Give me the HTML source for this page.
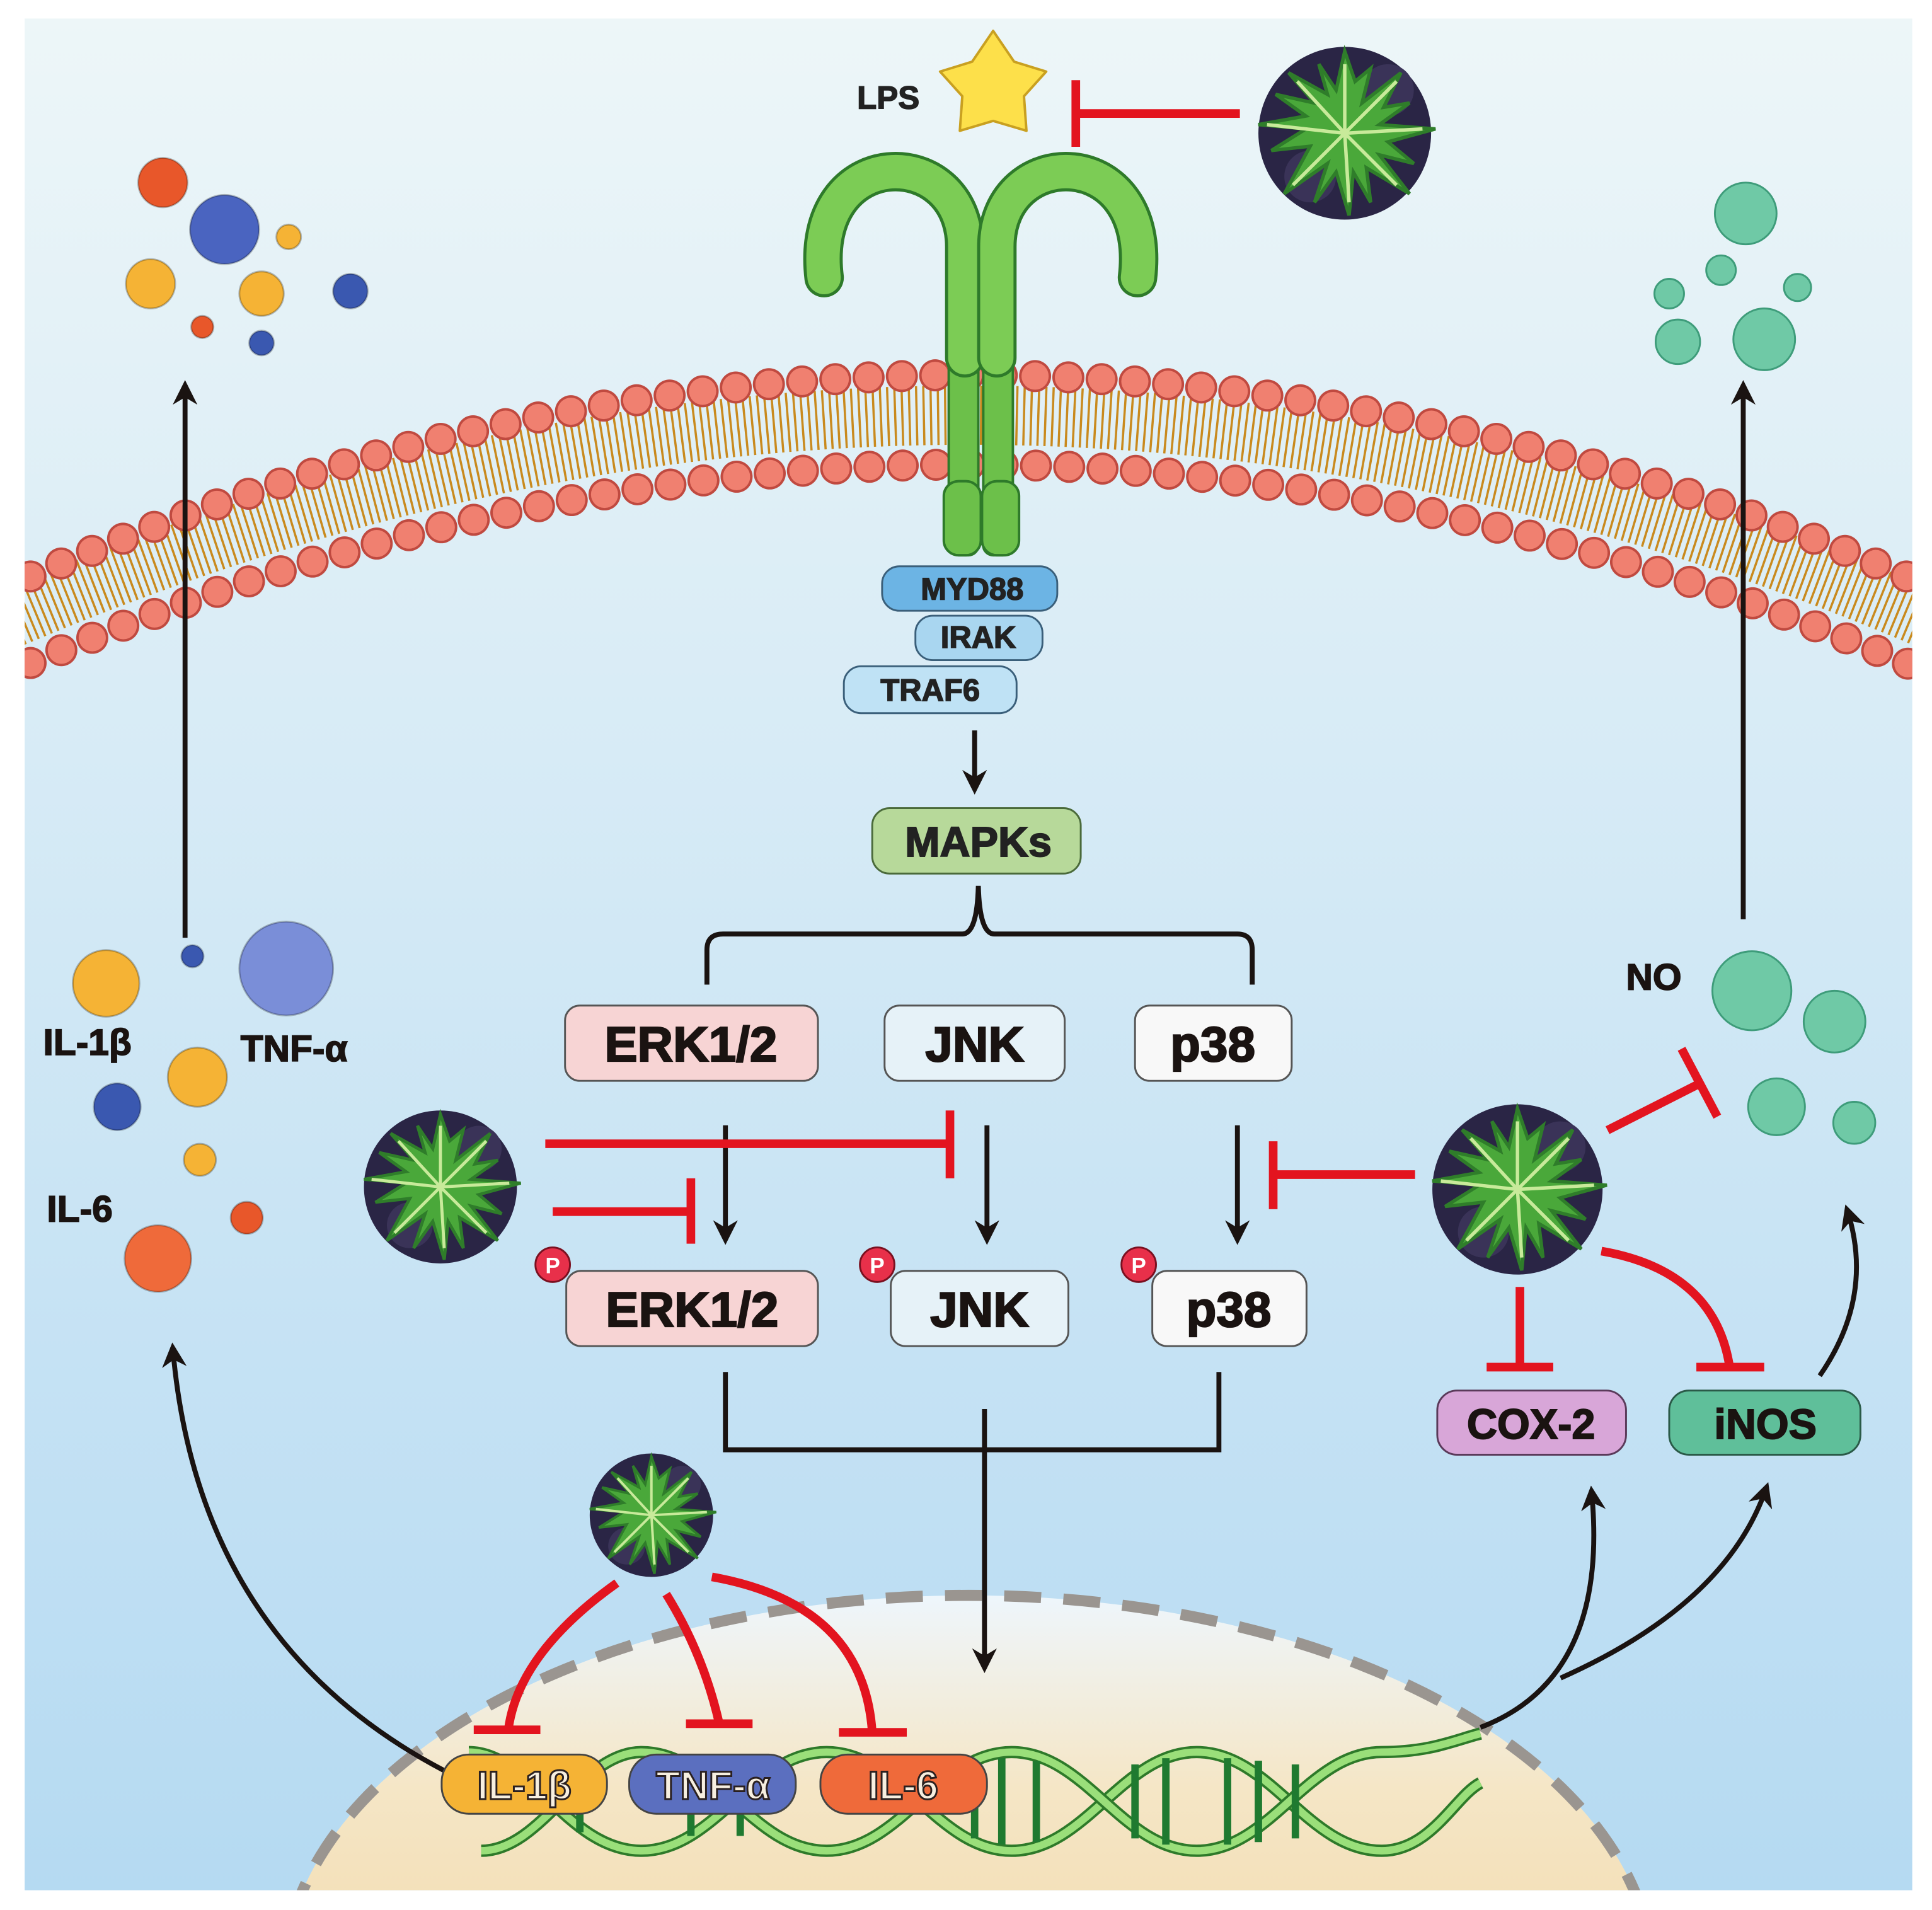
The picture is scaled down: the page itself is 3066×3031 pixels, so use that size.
<!DOCTYPE html>
<html><head><meta charset="utf-8"><style>html,body{margin:0;padding:0;background:#fff;overflow:hidden;width:3066px;height:3031px}svg{display:block}</style></head>
<body>
<svg width="3066" height="3031" viewBox="0 0 1566 1548" preserveAspectRatio="none" xmlns="http://www.w3.org/2000/svg" font-family="Liberation Sans, sans-serif" font-weight="bold">
<defs>
<linearGradient id="bg" x1="0" y1="0" x2="0" y2="1"><stop offset="0" stop-color="#edf6f8"/><stop offset="1" stop-color="#b5daf2"/></linearGradient>
<linearGradient id="nuc" x1="0" y1="0" x2="0" y2="1"><stop offset="0" stop-color="#eef6fc"/><stop offset="0.25" stop-color="#f5e6c6"/><stop offset="1" stop-color="#ecc886"/></linearGradient>
<marker id="ah" viewBox="0 0 10 10" refX="8" refY="5" markerWidth="5" markerHeight="5" orient="auto"><path d="M0,0 L10,5 L0,10 L3,5z" fill="#1a1311"/></marker>
<symbol id="plant" viewBox="-1 -1 2 2" overflow="visible">
<circle r="1" fill="#2a2545"/>
<circle cx="-0.4" cy="0.5" r="0.3" fill="#3a3358"/><circle cx="0.5" cy="-0.5" r="0.3" fill="#3a3358"/>
<polygon points="0,-0.95 0.12,-0.6 0.3,-0.75 0.2,-0.35 0.65,-0.7 0.45,-0.3 0.75,-0.35 0.4,-0.1 1.05,-0.05 0.5,0.1 0.8,0.35 0.4,0.25 0.75,0.7 0.25,0.4 0.3,0.8 0.1,0.45 0.05,0.95 -0.1,0.45 -0.35,0.8 -0.2,0.35 -0.7,0.7 -0.4,0.15 -0.85,0.2 -0.45,-0.05 -1,-0.1 -0.45,-0.2 -0.8,-0.45 -0.35,-0.35 -0.65,-0.7 -0.2,-0.45 -0.3,-0.8 -0.1,-0.5" fill="#4aa83a" stroke="#2f7d2a" stroke-width="0.04"/>
<path d="M0,0 L0,-0.8 M0,0 L0.6,-0.6 M0,0 L0.9,-0.05 M0,0 L0.6,0.6 M0,0 L0.05,0.8 M0,0 L-0.6,0.6 M0,0 L-0.9,-0.1 M0,0 L-0.55,-0.6" stroke="#c8ea9a" stroke-width="0.04"/>
</symbol>
</defs>
<rect width="1566" height="1548" fill="#fff"/>
<rect x="20" y="15" width="1530" height="1517" fill="url(#bg)"/>

<clipPath id="cp"><rect x="20" y="15" width="1530" height="1517"/></clipPath>
<g clip-path="url(#cp)">
<ellipse cx="785" cy="1605" rx="555" ry="312" fill="url(#nuc)" stroke="#9a9590" stroke-width="9" stroke-dasharray="30 18"/>
</g>

<g clip-path="url(#cp)">
<path d="M0,505 Q785,168 1570,505" fill="none" stroke="#c98a1e" stroke-width="48" stroke-dasharray="1.8 4"/>
<path d="M0,478 Q785,130 1570,478" fill="none" stroke="#c04a40" stroke-width="26" stroke-dasharray="0 27" stroke-linecap="round"/>
<path d="M0,478 Q785,130 1570,478" fill="none" stroke="#f08070" stroke-width="22" stroke-dasharray="0 27" stroke-linecap="round"/>
<path d="M0,548 Q785,205 1570,548" fill="none" stroke="#c04a40" stroke-width="26" stroke-dasharray="0 27" stroke-linecap="round"/>
<path d="M0,548 Q785,205 1570,548" fill="none" stroke="#f08070" stroke-width="22" stroke-dasharray="0 27" stroke-linecap="round"/>
</g>

<g stroke="#2e7a2a" stroke-width="2">
<rect x="769" y="180" width="24" height="270" rx="8" fill="#6cc04a"/>
<rect x="797" y="180" width="24" height="270" rx="8" fill="#6cc04a"/>
<rect x="765" y="390" width="30" height="60" rx="12" fill="#6cc04a"/>
<rect x="796" y="390" width="30" height="60" rx="12" fill="#6cc04a"/>
</g>
<path d="M782,290 L782,200 C782,115 655,115 668,225" fill="none" stroke="#2e7a2a" stroke-width="32" stroke-linecap="round"/>
<path d="M782,290 L782,200 C782,115 655,115 668,225" fill="none" stroke="#7ccc55" stroke-width="27" stroke-linecap="round"/>
<path d="M808,290 L808,200 C808,115 935,115 922,225" fill="none" stroke="#2e7a2a" stroke-width="32" stroke-linecap="round"/>
<path d="M808,290 L808,200 C808,115 935,115 922,225" fill="none" stroke="#7ccc55" stroke-width="27" stroke-linecap="round"/>

<polygon points="805,25 822,50 848,58 830,78 832,106 805,98 778,106 780,78 762,58 788,50" fill="#fde04a" stroke="#c9a020" stroke-width="2" stroke-linejoin="round"/>
<text x="720" y="88" font-size="26" text-anchor="middle" fill="#222" stroke="#222" stroke-width="0.8">LPS</text>
<path d="M1005,92 L872,92 M872,65 L872,119" stroke="#e3141f" stroke-width="7" fill="none"/>
<use href="#plant" x="1020" y="38" width="140" height="140"/>

<g stroke="#00000040" stroke-width="1.5">
<circle cx="132" cy="148" r="20" fill="#e8572a"/><circle cx="182" cy="186" r="28" fill="#4a64c0"/><circle cx="234" cy="192" r="10" fill="#f5b335"/>
<circle cx="122" cy="230" r="20" fill="#f5b335"/><circle cx="212" cy="238" r="18" fill="#f5b335"/><circle cx="284" cy="236" r="14" fill="#3a58b0"/>
<circle cx="164" cy="265" r="9" fill="#e8572a"/><circle cx="212" cy="278" r="10" fill="#3a58b0"/>
</g>
<g fill="#6fc9a6" stroke="#3e9c7a" stroke-width="1.5">
<circle cx="1415" cy="173" r="25"/><circle cx="1395" cy="219" r="12"/><circle cx="1353" cy="238" r="12"/><circle cx="1457" cy="233" r="11"/><circle cx="1360" cy="277" r="18"/><circle cx="1430" cy="275" r="25"/>
</g>

<line x1="150" y1="760" x2="150" y2="312" stroke="#1a1311" stroke-width="4" marker-end="url(#ah)"/>
<line x1="1413" y1="745" x2="1413" y2="312" stroke="#1a1311" stroke-width="4" marker-end="url(#ah)"/>

<g stroke="#3a5f7a" stroke-width="1.5">
<rect x="715" y="459" width="142" height="36" rx="14" fill="#6cb4e4"/>
<rect x="742" y="499" width="103" height="36" rx="14" fill="#a9d6f0"/>
<rect x="684" y="540" width="140" height="38" rx="14" fill="#bfe2f5"/>
</g>
<g font-size="25" text-anchor="middle" fill="#222" stroke="#222" stroke-width="0.8">
<text x="788" y="486">MYD88</text><text x="793" y="525">IRAK</text><text x="754" y="568">TRAF6</text>
</g>
<line x1="790" y1="592" x2="790" y2="640" stroke="#1a1311" stroke-width="4" marker-end="url(#ah)"/>
<rect x="707" y="655" width="169" height="53" rx="14" fill="#b7d99a" stroke="#4a6a3a" stroke-width="1.5"/>
<text x="793" y="694" font-size="34" text-anchor="middle" fill="#222" stroke="#222" stroke-width="1">MAPKs</text>
<path d="M573,798 L573,770 Q573,757 586,757 L780,757 Q792,757 793,718 Q794,757 806,757 L1003,757 Q1015,757 1015,770 L1015,798" fill="none" stroke="#1a1311" stroke-width="4"/>

<g stroke="#555" stroke-width="1.5">
<rect x="458" y="815" width="205" height="61" rx="12" fill="#f7d4d4"/>
<rect x="717" y="815" width="146" height="61" rx="12" fill="#e6f2f8"/>
<rect x="920" y="815" width="127" height="61" rx="12" fill="#f8f8f8"/>
<rect x="459" y="1030" width="204" height="61" rx="12" fill="#f7d4d4"/>
<rect x="722" y="1030" width="144" height="61" rx="12" fill="#e6f2f8"/>
<rect x="934" y="1030" width="125" height="61" rx="12" fill="#f8f8f8"/>
</g>
<g font-size="40" text-anchor="middle" fill="#1a1311" stroke="#1a1311" stroke-width="1.2">
<text x="560" y="860">ERK1/2</text><text x="790" y="860">JNK</text><text x="983" y="860">p38</text>
<text x="561" y="1075">ERK1/2</text><text x="794" y="1075">JNK</text><text x="996" y="1075">p38</text>
</g>
<g fill="#e8304a" stroke="#7a1020" stroke-width="1.5">
<circle cx="448" cy="1025" r="14"/><circle cx="711" cy="1025" r="14"/><circle cx="923" cy="1025" r="14"/>
</g>
<g font-size="18" fill="#fff" text-anchor="middle"><text x="448" y="1032">P</text><text x="711" y="1032">P</text><text x="923" y="1032">P</text></g>

<g stroke="#1a1311" stroke-width="4" marker-end="url(#ah)">
<line x1="588" y1="912" x2="588" y2="1005"/><line x1="800" y1="912" x2="800" y2="1005"/><line x1="1003" y1="912" x2="1003" y2="1005"/>
</g>

<g stroke="#e3141f" stroke-width="7" fill="none">
<path d="M442,927 L770,927 M770,900 L770,955"/>
<path d="M448,982 L560,982 M560,955 L560,1008"/>
<path d="M1147,952 L1032,952 M1032,925 L1032,980"/>
<path d="M1303,916 L1378,878 M1363,850 L1392,905"/>
<path d="M1232,1043 L1232,1108 M1205,1108 L1259,1108"/>
<path d="M1298,1014 Q1390,1030 1402,1108 M1375,1108 L1430,1108"/>
<path d="M500,1283 Q420,1340 412,1402 M384,1402 L438,1402"/>
<path d="M540,1292 Q570,1340 583,1397 M556,1397 L610,1397"/>
<path d="M577,1278 Q700,1300 707,1404 M680,1404 L735,1404"/>
</g>
<use href="#plant" x="295" y="900" width="124" height="124"/>
<use href="#plant" x="1161" y="895" width="138" height="138"/>
<use href="#plant" x="478" y="1178" width="100" height="100"/>

<rect x="1165" y="1127" width="153" height="52" rx="16" fill="#d8a6d8" stroke="#5a3a5a" stroke-width="1.5"/>
<rect x="1353" y="1127" width="155" height="52" rx="16" fill="#5fbf9a" stroke="#2a5a48" stroke-width="1.5"/>
<g font-size="34" text-anchor="middle" fill="#1a1311" stroke="#1a1311" stroke-width="1"><text x="1241" y="1166">COX-2</text><text x="1431" y="1166">iNOS</text></g>

<g stroke="#1a1311" stroke-width="4" fill="none" marker-end="url(#ah)">
<path d="M1475,1115 Q1520,1050 1497,980"/>
<path d="M1200,1400 Q1305,1360 1290,1208"/>
<path d="M1265,1360 Q1400,1300 1432,1205"/>
<path d="M360,1435 Q160,1330 140,1092"/>
<line x1="798" y1="1142" x2="798" y2="1352"/>
</g>
<path d="M588,1112 L588,1175 L988,1175 L988,1112" fill="none" stroke="#1a1311" stroke-width="4"/>

<g fill="none">
<path d="M380,1420 C430,1420 460,1500 520,1500 C580,1500 610,1420 670,1420 C730,1420 760,1500 820,1500 C880,1500 910,1420 970,1420 C1030,1420 1060,1500 1120,1500 C1160,1500 1180,1455 1200,1445" stroke="#2e7a2a" stroke-width="10"/>
<path d="M380,1420 C430,1420 460,1500 520,1500 C580,1500 610,1420 670,1420 C730,1420 760,1500 820,1500 C880,1500 910,1420 970,1420 C1030,1420 1060,1500 1120,1500 C1160,1500 1180,1455 1200,1445" stroke="#9adf7a" stroke-width="6"/>
<path d="M390,1500 C440,1500 470,1420 520,1420 C580,1420 610,1500 670,1500 C730,1500 760,1420 820,1420 C880,1420 910,1500 970,1500 C1030,1500 1060,1420 1120,1420 C1160,1420 1180,1410 1200,1405" stroke="#2e7a2a" stroke-width="10"/>
<path d="M390,1500 C440,1500 470,1420 520,1420 C580,1420 610,1500 670,1500 C730,1500 760,1420 820,1420 C880,1420 910,1500 970,1500 C1030,1500 1060,1420 1120,1420 C1160,1420 1180,1410 1200,1405" stroke="#9adf7a" stroke-width="6"/>
<path d="M790,1430v60 M812,1425v70 M840,1427v66 M920,1430v60 M945,1425v70 M995,1425v70 M1020,1427v66 M1050,1430v60 M470,1435v50 M560,1433v55 M600,1433v55" stroke="#1f7a30" stroke-width="6"/>
</g>
<g stroke="#444" stroke-width="1.5">
<rect x="358" y="1422" width="134" height="48" rx="22" fill="#f5b335"/>
<rect x="510" y="1422" width="135" height="48" rx="22" fill="#5b6fbf"/>
<rect x="665" y="1422" width="135" height="48" rx="22" fill="#ef6a3a"/>
</g>
<g font-size="32" text-anchor="middle" fill="#f7efe0" stroke="#2a2020" stroke-width="1.5">
<text x="425" y="1458">IL-1β</text><text x="578" y="1458">TNF-α</text><text x="732" y="1458">IL-6</text>
</g>

<g stroke="#00000040" stroke-width="1.5">
<circle cx="86" cy="797" r="27" fill="#f5b335"/><circle cx="156" cy="775" r="9" fill="#3a58b0"/><circle cx="232" cy="785" r="38" fill="#7a8ed8"/>
<circle cx="160" cy="873" r="24" fill="#f5b335"/><circle cx="95" cy="897" r="19" fill="#3a58b0"/><circle cx="162" cy="940" r="13" fill="#f5b335"/>
<circle cx="200" cy="987" r="13" fill="#e8572a"/><circle cx="128" cy="1020" r="27" fill="#ef6a3a"/>
</g>
<g fill="#6fc9a6" stroke="#3e9c7a" stroke-width="1.5">
<circle cx="1420" cy="803" r="32"/><circle cx="1487" cy="828" r="25"/><circle cx="1440" cy="897" r="23"/><circle cx="1503" cy="910" r="17"/>
</g>
<g font-size="30" fill="#1a1311" stroke="#1a1311" stroke-width="0.9">
<text x="35" y="855">IL-1β</text><text x="195" y="860">TNF-α</text><text x="38" y="990">IL-6</text><text x="1318" y="802">NO</text>
</g>
</svg>
</body></html>
